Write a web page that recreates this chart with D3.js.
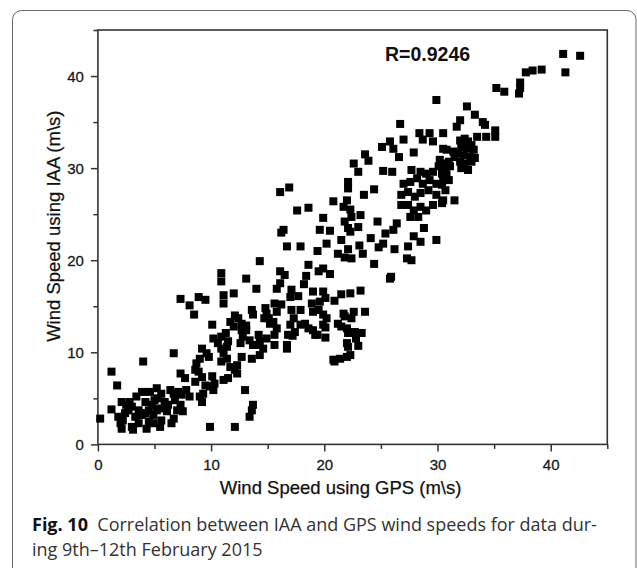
<!DOCTYPE html>
<html>
<head>
<meta charset="utf-8">
<script src="https://cdn.jsdelivr.net/npm/d3@7"></script>
<style>
  body { margin: 0; background: #fff; }
</style>
</head>
<body>
<div id="chart"></div>
<script>
// [GPS wind speed, IAA wind speed] pairs, grouped by area
const lowGroup = [
  [0.2,2.8],[1.2,7.9],[1.7,6.4],[4.0,9.0],[6.7,9.9],[1.2,3.8],[1.8,3.0],[2.0,2.3],[2.1,1.7],[2.4,3.4],
  [2.5,4.3],[2.8,4.6],[3.0,1.9],[3.1,1.6],[3.4,5.2],[3.6,3.7],[3.9,5.7],[4.2,4.6],[4.2,3.4],[4.3,1.7],
  [4.5,2.5],[4.6,5.7],[4.8,4.3],[4.9,3.2],[5.2,6.1],[5.3,5.0],[5.5,3.9],[5.5,1.9],[5.6,2.6],[5.9,4.6],
  [6.1,3.6],[6.4,5.9],[6.7,5.5],[6.5,2.3],[6.7,2.8],[6.8,4.8],[7.1,5.7],[7.5,3.6],[7.7,7.2],[7.8,5.9],
  [8.1,5.2],[8.6,8.1],[8.9,7.9],[8.7,8.8],[9.0,5.2],[9.2,4.6],[9.3,5.5],[9.2,10.4],[9.6,9.9],[9.8,9.5],
  [9.5,6.4],[9.9,6.3],[10.2,5.9],[9.9,1.9],[10.1,7.4],[10.3,6.6],[10.2,11.5],[10.6,11.0],[10.9,11.7],[10.9,10.4],
  [11.4,10.6],[11.7,8.4],[12.1,8.1],[12.3,7.7],[11.1,7.0],[11.5,7.2],[12.1,1.9],[10.9,9.0],[11.4,9.3],[12.6,11.0],
  [12.8,11.7],[12.7,12.4],[13.6,9.3],[13.0,5.9],[13.4,3.0],[13.6,3.7],[13.7,4.3],
  [2.1,4.6],[2.2,2.6],[2.7,3.7],[3.0,4.1],[3.3,3.0],[3.6,2.3],[3.9,3.2],[4.9,2.3],[5.2,3.7],[5.6,5.5],
  [6.2,4.3],[7.0,3.7],[7.3,4.3],[7.4,5.4],[4.5,3.7],[5.0,4.8],
  [11.5,11.2],[13.4,11.3],[13.7,10.8],[13.1,12.4],[11.1,9.9],[12.7,9.5],[12.3,8.6],[8.6,6.8],[9.2,7.3],
  [7.3,7.7],[9.0,9.3]
];

const midGroup = [
  [14.3,19.9],[10.9,18.6],[10.9,17.7],[13.1,18.0],[14.0,16.9],[12.0,16.4],[11.1,16.2],[11.1,15.3],[8.9,16.0],[9.5,15.7],
  [7.3,15.8],[8.1,15.1],[8.5,14.1],[15.8,16.9],[13.6,14.6],[13.7,14.1],[14.8,14.8],[14.9,14.2],[15.1,13.7],[15.2,13.1],
  [15.6,15.3],[15.8,14.4],[15.5,13.3],[15.8,12.6],[15.6,11.9],[12.1,14.0],[12.4,13.7],[12.7,13.1],[11.7,13.3],[12.0,12.8],
  [10.1,13.0],[14.2,11.9],[14.3,11.2],[14.0,10.8],[14.9,11.5],[15.6,10.8],[16.7,10.4],[14.3,9.7],[17.1,14.6],[17.3,13.7],
  [17.0,13.0],[17.4,12.2],[16.8,11.9],[14.6,10.4],[16.7,10.8],[17.2,11.8],[16.2,15.2],[14.7,13.7],[11.3,12.1],[13.1,12.9]
];

const lowRightGroup = [
  [19.5,14.6],[19.0,14.4],[17.9,14.6],[21.7,14.2],[21.8,13.9],[22.6,14.4],[22.4,13.7],[20.2,13.7],[19.9,13.0],[17.9,13.0],
  [18.6,12.6],[19.0,12.4],[19.2,11.9],[21.2,13.1],[21.5,12.8],[22.0,12.6],[22.1,12.1],[22.7,12.2],[23.3,12.1],[22.8,11.5],
  [22.0,11.0],[22.1,10.6],[22.0,9.5],[21.4,9.3],[20.8,9.2],[22.3,9.7],[20.9,9.0],[23.6,14.4],[23.0,10.7],[20.1,12.7],
  [19.4,11.9],[20.1,11.6],[19.9,14.1],[18.3,13.1]
];

const upperGroup = [
  [25.1,32.3],[23.6,31.5],[23.9,30.8],[22.6,30.5],[23.0,29.6],[25.2,29.7],[26.0,29.6],[22.1,28.5],[22.1,27.8],[24.4,27.7],
  [23.5,27.1],[16.9,27.9],[16.1,27.4],[20.8,26.4],[22.0,26.5],[22.3,25.5],[21.7,25.8],[22.4,24.7],[23.2,24.9],[21.8,24.2],
  [22.1,23.5],[22.3,23.1],[23.0,23.6],[17.6,25.4],[18.6,25.7],[19.9,24.6],[19.6,23.3],[20.5,23.2],[21.5,22.2],[16.4,23.3],
  [16.2,23.0],[16.7,21.5],[17.9,21.5],[19.4,21.0],[20.2,21.8],[22.1,21.2],[23.1,21.6],[21.2,20.7],[21.8,20.3],[22.4,20.2],
  [23.4,20.7],[24.7,24.2],[26.4,24.0],[26.1,23.3],[25.4,22.9],[24.1,22.4],[25.2,21.8],[24.8,21.4],[26.2,21.2],[27.4,21.5],
  [27.9,22.6],[28.5,22.0],[28.8,23.5],[29.9,22.2],[27.3,20.2],[27.7,20.0],[24.4,19.6],[25.9,18.2],[25.8,18.0],[23.2,16.7],
  [22.3,16.4],[21.5,16.3],[20.9,15.6],[19.9,16.6],[20.1,15.9],[19.6,15.5],[18.6,19.5],[18.4,18.3],[19.5,18.8],[19.9,19.1],
  [20.5,18.5],[18.2,17.4],[16.1,18.8],[16.5,18.4],[16.1,17.5],[17.1,16.8],[17.0,16.0],[17.7,16.1],[19.0,16.6],[18.9,15.3],
  [27.7,29.8],[28.5,29.6],[29.0,29.4],[29.6,29.6],[27.0,28.3],[27.6,28.5],[28.2,28.9],[28.7,28.3],[29.3,28.7],[29.9,28.3],
  [26.8,27.1],[27.4,27.4],[28.0,26.9],[28.5,27.3],[29.2,27.6],[29.9,27.1],[26.8,26.0],[27.4,26.0],[27.9,25.4],[28.5,25.8],
  [29.0,25.4],[29.6,26.0],[27.6,24.7],[28.3,24.7]
];

const topGroup = [
  [29.9,37.4],[32.6,36.7],[32.0,35.2],[31.7,34.5],[26.7,34.8],[28.4,33.8],[29.3,33.8],[30.5,33.8],[27.0,33.1],[28.7,33.1],
  [29.6,32.9],[25.8,32.9],[26.1,32.1],[27.9,31.7],[26.6,31.2],[30.5,32.1],[30.8,32.0],
  [32.0,33.0],[32.4,33.2],[32.7,32.9],[33.0,32.5],[33.2,32.0],[32.1,32.3],[32.6,32.1],[31.8,31.6],[32.3,31.4],[32.9,31.2],
  [33.3,31.1],[32.0,30.7],[32.4,30.5],[33.0,30.7],[32.1,30.0],[32.7,29.8],[31.5,31.2],[31.4,31.8],
  [30.2,30.9],[30.5,30.5],[31.0,30.7],[30.1,30.2],[30.7,30.0],[31.1,30.2],[30.4,29.4],[30.8,29.3],[30.5,28.7],[31.0,28.7],
  [30.4,28.2],[30.7,27.6],[30.5,26.5],[31.5,26.5],[30.4,26.2],
  [41.1,42.4],[42.6,42.2],[41.3,40.4],[39.2,40.7],[38.4,40.6],[37.8,40.4],[37.3,39.3],[37.3,38.7],[37.2,38.1],[35.2,38.7],
  [35.9,38.3],[33.3,35.8],[34.0,35.0],[34.2,34.7],[35.1,34.1],[35.1,33.4],[33.5,33.4],[34.3,33.4]
];

const majorTicks = [0, 10, 20, 30, 40];
const minorTicks = [5, 15, 25, 35, 45];
const xTitle = "Wind Speed using GPS (m\\s)";
const yTitle = "Wind Speed using IAA (m\\s)";
const rLabel = "R=0.9246";

const data = lowGroup.concat(midGroup, lowRightGroup, upperGroup, topGroup);

const W = 637, H = 568;
const plot = { left: 97.9, right: 607.3, top: 30, bottom: 444.4 };

const svg = d3.select("#chart").append("svg")
  .attr("width", W)
  .attr("height", H)
  .style("display", "block");

// outer card
svg.append("rect")
  .attr("x", 12.5).attr("y", 10.5)
  .attr("width", 623.5).attr("height", 640)
  .attr("rx", 9)
  .attr("fill", "none")
  .attr("stroke", "#666")
  .attr("stroke-width", 1);

const x = d3.scaleLinear().domain([0, 45]).range([plot.left, plot.right]);
const y = d3.scaleLinear().domain([0, 45]).range([plot.bottom, plot.top]);

const fontChart = "'Liberation Sans', Arial, Helvetica, sans-serif";
const axisColor = "#333";

// minor ticks
svg.append("g")
  .attr("transform", "translate(0," + plot.bottom + ")")
  .call(d3.axisBottom(x).tickValues(minorTicks).tickSize(4.5).tickFormat(""));
svg.append("g")
  .attr("transform", "translate(" + plot.left + ",0)")
  .call(d3.axisLeft(y).tickValues(minorTicks).tickSize(4.5).tickFormat(""));

// major ticks + labels
const xAxis = svg.append("g")
  .attr("transform", "translate(0," + plot.bottom + ")")
  .call(d3.axisBottom(x).tickValues(majorTicks).tickSize(7).tickFormat(d3.format("d")));
xAxis.selectAll("text")
  .attr("y", 26)
  .attr("dy", 0);

const yAxis = svg.append("g")
  .attr("transform", "translate(" + plot.left + ",0)")
  .call(d3.axisLeft(y).tickValues(majorTicks).tickSize(7).tickFormat(d3.format("d")));
yAxis.selectAll("text")
  .attr("x", -14)
  .attr("dy", "0.36em");

svg.selectAll(".domain").remove();
svg.selectAll(".tick line")
  .attr("stroke", axisColor)
  .attr("stroke-width", 1.5);
svg.selectAll(".tick text")
  .attr("fill", "#1a1a1a")
  .attr("stroke", "#1a1a1a")
  .attr("stroke-width", 0.3)
  .style("font-family", fontChart)
  .style("font-size", "15px");

// frame
svg.append("rect")
  .attr("x", plot.left).attr("y", plot.top)
  .attr("width", plot.right - plot.left)
  .attr("height", plot.bottom - plot.top)
  .attr("fill", "none")
  .attr("stroke", axisColor)
  .attr("stroke-width", 1.6);

// points
const sq = 8;
svg.append("g")
  .selectAll("rect")
  .data(data)
  .join("rect")
  .attr("x", d => x(d[0]) - sq / 2)
  .attr("y", d => y(d[1]) - sq / 2)
  .attr("width", sq)
  .attr("height", sq)
  .attr("fill", "#000");

// R label
svg.append("text")
  .attr("x", 385).attr("y", 60.5)
  .attr("fill", "#111")
  .style("font-family", fontChart)
  .style("font-weight", "bold")
  .style("font-size", "19.5px")
  .text(rLabel);

// axis titles
svg.append("text")
  .attr("x", (plot.left + plot.right) / 2 - 12)
  .attr("y", 494)
  .attr("text-anchor", "middle")
  .attr("fill", "#111")
  .attr("stroke", "#111")
  .attr("stroke-width", 0.25)
  .style("font-family", fontChart)
  .style("font-size", "18.5px")
  .text(xTitle);

svg.append("text")
  .attr("transform", "translate(60," + ((plot.top + plot.bottom) / 2 - 11) + ") rotate(-90)")
  .attr("text-anchor", "middle")
  .attr("fill", "#111")
  .attr("stroke", "#111")
  .attr("stroke-width", 0.25)
  .style("font-family", fontChart)
  .style("font-size", "18.5px")
  .text(yTitle);

// caption
const cap = svg.append("text")
  .attr("x", 32).attr("y", 531)
  .attr("fill", "#333")
  .style("font-family", "'Open Sans', 'Noto Sans', sans-serif")
  .style("font-size", "18px");
cap.append("tspan")
  .style("font-weight", "bold")
  .attr("fill", "#111")
  .text("Fig. 10");
cap.append("tspan")
  .text("\u00a0 Correlation between IAA and GPS wind speeds for data dur-");

svg.append("text")
  .attr("x", 32).attr("y", 556)
  .attr("fill", "#333")
  .style("font-family", "'Open Sans', 'Noto Sans', sans-serif")
  .style("font-size", "18px")
  .text("ing 9th\u201312th February 2015");
</script>
</body>
</html>
